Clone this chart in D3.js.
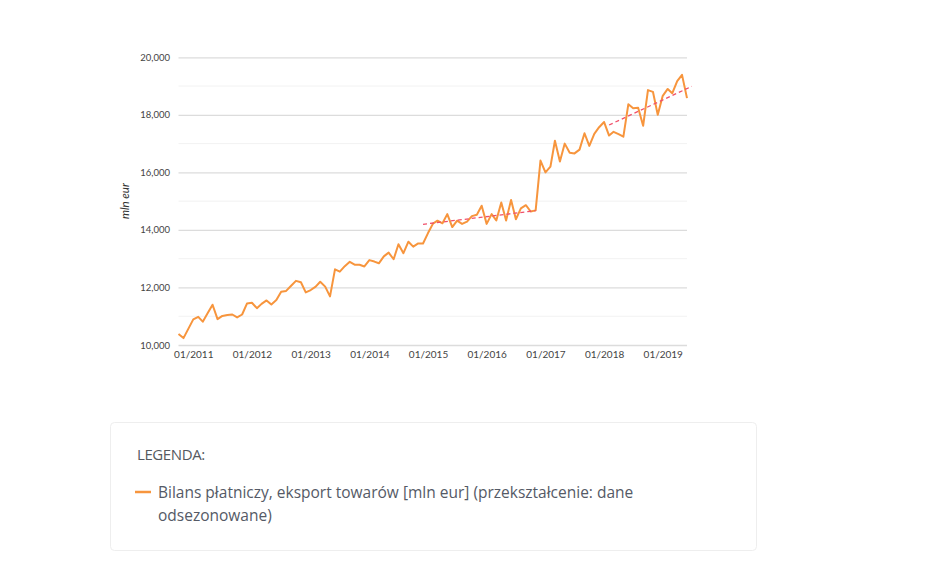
<!DOCTYPE html>
<html lang="pl">
  <head>
    <meta charset="utf-8">
    <title>Bilans płatniczy, eksport towarów</title>
    <script src="https://d3js.org/d3.v7.min.js"></script>
    <style>
      body { margin: 0; background: #fff; }
      text { font-family: Lato, "Open Sans", sans-serif; }
      .legend text { font-family: "Open Sans", sans-serif; }
    </style>
  </head>
  <body>
    <div id="my_dataviz"></div>
    <script>

      // monthly values, first point 10/2010, last 06/2019 (mln eur, seasonally adjusted)
      const firstMonth = new Date(2010, 9, 1);
      const lastMonth = new Date(2019, 5, 1);
      const exportValues = [
        10380, 10240, 10560,
        10890, 10980, 10810, 11110, 11400, 10900, 11010, 11040, 11060, 10960, 11060, 11440,
        11470, 11280, 11430, 11550, 11410, 11560, 11850, 11880, 12060, 12230, 12180, 11830,
        11910, 12030, 12200, 12030, 11690, 12630, 12550, 12740, 12890, 12790, 12790, 12730,
        12950, 12900, 12840, 13080, 13210, 12980, 13500, 13190, 13590, 13420, 13530, 13530,
        13890, 14220, 14320, 14230, 14550, 14100, 14320, 14210, 14290, 14480, 14530, 14840,
        14210, 14550, 14330, 14950, 14330, 15040, 14370, 14750, 14860, 14640, 14680, 16410,
        16000, 16200, 17100, 16380, 17000, 16680, 16660, 16790, 17360, 16920, 17340, 17570,
        17750, 17280, 17410, 17330, 17240, 18370, 18230, 18250, 17620, 18860, 18800, 18000,
        18660, 18900, 18750, 19170, 19390, 18580
      ];

      // dashed trend segments: [start month, start value, end month, end value]
      const trendLines = [
        [new Date(2014, 11, 1), 14195, new Date(2016, 10, 1), 14668],
        [new Date(2018, 1, 1), 17647, new Date(2019, 6, 1), 18990]
      ];

      const yTicks = [10000, 12000, 14000, 16000, 18000, 20000];
      const yMinorTicks = [11000, 13000, 15000, 17000, 19000];
      const yTitle = "mln eur";
      const legendTitle = "LEGENDA:";
      const legendLines = ["Bilans płatniczy, eksport towarów [mln eur] (przekształcenie: dane", "odsezonowane)"];

      const months = d3.timeMonth.range(firstMonth, d3.timeMonth.offset(lastMonth, 1));
      const data = months.map((m, i) => ({date: m, value: exportValues[i]}));

      const W = 945, H = 565;
      const plot = {left: 178.5, right: 687, top: 57.3, bottom: 345};

      const svg = d3.select("#my_dataviz")
        .append("svg")
          .attr("width", W)
          .attr("height", H);

      const x = d3.scaleTime()
        .domain([firstMonth, lastMonth])
        .range([plot.left, plot.right]);

      const y = d3.scaleLinear()
        .domain([10000, 20000])
        .range([plot.bottom, plot.top]);

      // minor gridlines
      svg.append("g")
        .selectAll("line")
        .data(yMinorTicks)
        .join("line")
          .attr("x1", plot.left).attr("x2", plot.right)
          .attr("y1", d => y(d)).attr("y2", d => y(d))
          .attr("stroke", "#f2f2f2")
          .attr("stroke-width", 1);

      // major gridlines + labels
      const yAxis = d3.axisLeft(y)
        .tickValues(yTicks)
        .tickFormat(d3.format(","))
        .tickSize(-(plot.right - plot.left))
        .tickPadding(9);

      svg.append("g")
        .attr("transform", `translate(${plot.left},0)`)
        .call(yAxis)
        .call(g => g.select(".domain").remove())
        .call(g => g.selectAll(".tick line").attr("stroke", "#dcdcdc").attr("stroke-width", 1.3))
        .call(g => g.selectAll(".tick text")
          .attr("x", 170 - plot.left)
          .attr("fill", "#444")
          .style("font-size", "9.5px"));

      // x axis labels
      const xAxis = d3.axisBottom(x)
        .ticks(d3.timeYear.every(1))
        .tickFormat(d3.timeFormat("%m/%Y"))
        .tickSize(0)
        .tickPadding(6);

      svg.append("g")
        .attr("transform", `translate(0,${plot.bottom})`)
        .call(xAxis)
        .call(g => g.select(".domain").remove())
        .call(g => g.selectAll(".tick text")
          .attr("fill", "#444")
          .style("font-size", "10px"));

      // y title
      svg.append("text")
        .attr("transform", `translate(129,${(plot.top + plot.bottom) / 2}) rotate(-90)`)
        .attr("text-anchor", "middle")
        .attr("fill", "#333")
        .style("font-size", "11.5px")
        .style("font-style", "italic")
        .text(yTitle);

      // main series
      svg.append("path")
        .datum(data)
        .attr("fill", "none")
        .attr("stroke", "#f7953d")
        .attr("stroke-width", 2)
        .attr("stroke-linejoin", "round")
        .attr("d", d3.line()
          .x(d => x(d.date))
          .y(d => y(d.value)));

      // trend lines
      svg.append("g")
        .selectAll("line")
        .data(trendLines)
        .join("line")
          .attr("x1", d => x(d[0])).attr("y1", d => y(d[1]))
          .attr("x2", d => x(d[2])).attr("y2", d => y(d[3]))
          .attr("stroke", "#f0506a")
          .attr("stroke-width", 1.3)
          .attr("stroke-dasharray", "4,3");

      // legend box
      const legend = svg.append("g").attr("class", "legend");

      legend.append("rect")
        .attr("x", 110.5).attr("y", 422.5)
        .attr("width", 646).attr("height", 128)
        .attr("rx", 4)
        .attr("fill", "#fff")
        .attr("stroke", "#eeeeee");

      legend.append("text")
        .attr("x", 137).attr("y", 460)
        .attr("fill", "#555a60")
        .style("font-size", "15px")
        .style("letter-spacing", "-0.4px")
        .text(legendTitle);

      legend.append("line")
        .attr("x1", 135).attr("x2", 151)
        .attr("y1", 492).attr("y2", 492)
        .attr("stroke", "#f7953d")
        .attr("stroke-width", 2.5);

      legend.selectAll("text.item")
        .data(legendLines)
        .join("text")
          .attr("class", "item")
          .attr("x", 158)
          .attr("y", (d, i) => 497.5 + i * 23)
          .attr("fill", "#555a66")
          .style("font-size", "15.5px")
          .text(d => d);

    </script>
  </body>
</html>
